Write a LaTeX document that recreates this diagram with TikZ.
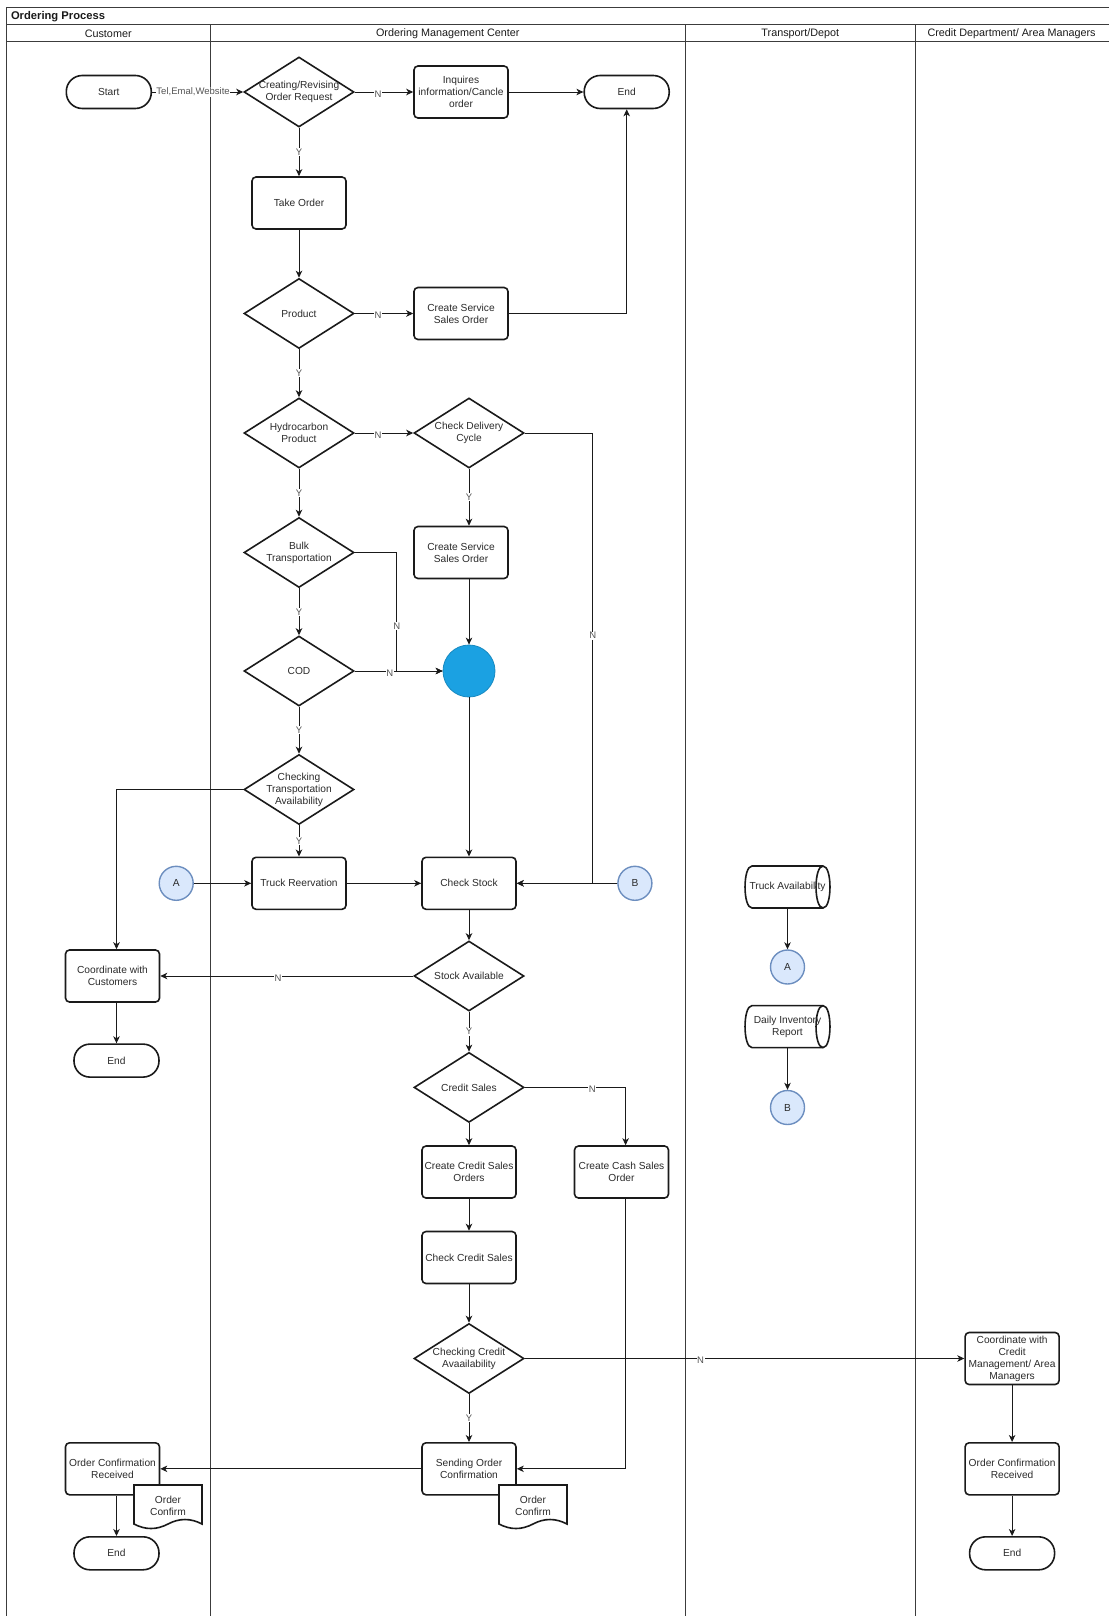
\documentclass[tikz,border=0pt]{standalone}
\usepackage{fontspec}
\setmainfont{Liberation Sans}
\usetikzlibrary{arrows.meta,shapes.geometric,calc}

\definecolor{inkc}{HTML}{1A1A1A}
\definecolor{txtc}{HTML}{2B2B2B}
\definecolor{lblc}{HTML}{555555}
\definecolor{hubblue}{HTML}{1BA1E2}
\definecolor{refill}{HTML}{DAE8FC}
\definecolor{refdraw}{HTML}{6C8EBF}

\begin{document}
\begin{tikzpicture}[x=1pt,y=-1pt,
  base/.style={font=\fontsize{10.2}{12}\selectfont, text=txtc, align=center},
  proc/.style={base, draw=inkc, line width=1.6pt, rounded corners=4pt, minimum width=94pt, minimum height=52pt, inner sep=1pt, fill=white},
  term/.style={base, draw=inkc, line width=1.6pt, rounded corners=16pt, minimum width=85pt, minimum height=33pt, inner sep=1pt, fill=white},
  dec/.style={draw=inkc, line width=1.6pt, diamond, minimum width=110pt, minimum height=70pt, inner sep=0pt, fill=white},
  dtext/.style={base},
  conn/.style={base, circle, draw=refdraw, fill=refill, line width=1.4pt, minimum size=34pt, inner sep=0pt},
  shapeline/.style={draw=inkc, line width=1.6pt, fill=white},
  wire/.style={draw=inkc, line width=0.9pt},
  arr/.style={wire, -{Stealth[length=7pt,width=6.5pt,inset=2pt]}},
  lbl/.style={fill=white, inner sep=0.6pt, text=lblc, font=\fontsize{9.5}{10}\selectfont},
  hlbl/.style={lbl, yshift=-2pt},
  lane/.style={draw=inkc!85, line width=0.9pt},
  head/.style={font=\fontsize{10.8}{13}\selectfont, text=inkc},
]
\useasboundingbox (0,0) rectangle (1108,1616);

% swimlane frame
\draw[lane] (1112,7.2) -- (6.2,7.2) -- (6.2,1620);
\draw[lane] (6.2,24.7) -- (1112,24.7);
\draw[lane] (6.2,41.2) -- (1112,41.2);
\draw[lane] (210.3,24.7) -- (210.3,1620);
\draw[lane] (685.4,24.7) -- (685.4,1620);
\draw[lane] (915.3,24.7) -- (915.3,1620);

\node[anchor=west, font=\fontsize{11.2}{13}\selectfont\bfseries, text=inkc] (title) at (7.5,16.5) {Ordering Process};
\node[head] (hcust) at (108.2,34) {Customer};
\node[head] (homc) at (447.8,34) {Ordering Management Center};
\node[head] (htrans) at (800.3,34) {Transport/Depot};
\node[head] (hcred) at (1011.6,34) {Credit Department/ Area Managers};

% process nodes
\node[term] (start) at (108.8,92) {Start};
\node[dec, label={[dtext]center:{Creating/Revising\\Order Request}}] (creq) at (299,92) {};
\node[proc] (inq) at (461,92) {Inquires\\information/Cancle\\order};
\node[term] (endA) at (626.7,92) {End};
\node[proc] (take) at (299,203) {Take Order};
\node[dec, label={[dtext]center:{Product}}] (prod) at (299,313.5) {};
\node[proc] (svc1) at (461,313.5) {Create Service\\Sales Order};
\node[dec, label={[dtext]center:{Hydrocarbon\\Product}}] (hydro) at (299,433) {};
\node[dec, label={[dtext]center:{Check Delivery\\Cycle}}] (cdc) at (469,433) {};
\node[proc] (svc2) at (461,552.5) {Create Service\\Sales Order};
\node[dec, label={[dtext]center:{Bulk\\Transportation}}] (bulk) at (299,552.5) {};
\node[dec, label={[dtext]center:{COD}}] (cod) at (299,671) {};
\node[circle, fill=hubblue, draw=hubblue!85!black, line width=0.8pt, minimum size=52pt, inner sep=0pt] (hub) at (469,671) {};
\node[dec, label={[dtext]center:{Checking\\Transportation\\Availability}}] (ctrans) at (299,789.5) {};
\node[proc] (truck) at (299,883.3) {Truck Reervation};
\node[conn] (conA) at (176.2,883.3) {A};
\node[proc] (stock) at (469,883.3) {Check Stock};
\node[conn] (conB) at (634.9,883.3) {B};
\node[proc] (coordc) at (112.5,976) {Coordinate with\\Customers};
\node[term] (endB) at (116.5,1060.6) {End};
\node[dec, label={[dtext]center:{Stock Available}}] (savail) at (469,976) {};
\node[dec, label={[dtext]center:{Credit Sales}}] (csales) at (469,1087.4) {};
\node[proc] (ccso) at (469,1172) {Create Credit Sales\\Orders};
\node[proc] (cash) at (621.5,1172) {Create Cash Sales\\Order};
\node[proc] (chkcs) at (469,1257.5) {Check Credit Sales};
\node[dec, label={[dtext]center:{Checking Credit\\Avaailability}}] (ccav) at (469,1358.5) {};
\node[proc] (ccm) at (1012.1,1358.5) {Coordinate with\\Credit\\Management/ Area\\Managers};
\node[proc] (ocr2) at (1012.1,1468.8) {Order Confirmation\\Received};
\node[term] (endD) at (1012.1,1553.3) {End};
\node[proc] (send) at (469,1468.8) {Sending Order\\Confirmation};
\node[proc] (ocr1) at (112.5,1468.8) {Order Confirmation\\Received};
\node[term] (endC) at (116.5,1553.3) {End};

% document symbols (wavy bottom)
\begin{scope}[shift={(168,1507)}]
  \draw[shapeline] (-34,-22) -- (34,-22) -- (34,17)
    .. controls (22.67,11) and (11.33,11) .. (0,17)
    .. controls (-11.33,23) and (-22.67,23) .. (-34,17) -- cycle;
  \node[base] (doc1) at (0,-1) {Order\\Confirm};
\end{scope}
\begin{scope}[shift={(533,1507)}]
  \draw[shapeline] (-34,-22) -- (34,-22) -- (34,17)
    .. controls (22.67,11) and (11.33,11) .. (0,17)
    .. controls (-11.33,23) and (-22.67,23) .. (-34,17) -- cycle;
  \node[base] (doc2) at (0,-1) {Order\\Confirm};
\end{scope}

% direct access storage symbols
\begin{scope}[shift={(787.5,887)}]
  \draw[shapeline] (-35.5,-21) -- (35.5,-21)
    .. controls (44.8,-21) and (44.8,21) .. (35.5,21) -- (-35.5,21)
    .. controls (-44.8,21) and (-44.8,-21) .. (-35.5,-21) -- cycle;
  \draw[shapeline, fill=none] (35.5,-21) .. controls (26.2,-21) and (26.2,21) .. (35.5,21);
  \coordinate (tavbot) at (0,21);
  \node[base] (tav) at (0,0) {Truck Availability};
\end{scope}
\begin{scope}[shift={(787.5,1026.6)}]
  \draw[shapeline] (-35.5,-21) -- (35.5,-21)
    .. controls (44.8,-21) and (44.8,21) .. (35.5,21) -- (-35.5,21)
    .. controls (-44.8,21) and (-44.8,-21) .. (-35.5,-21) -- cycle;
  \draw[shapeline, fill=none] (35.5,-21) .. controls (26.2,-21) and (26.2,21) .. (35.5,21);
  \coordinate (dirbot) at (0,21);
  \node[base] (dir) at (0,0) {Daily Inventory\\Report};
\end{scope}
\node[conn] (conA2) at (787.5,967) {A};
\node[conn] (conB2) at (787.5,1107.5) {B};

% junction points of routed connectors
\coordinate (jcdc) at (592.7,433);
\coordinate (jbulk) at (396.8,552.5);
\coordinate (jcash) at (625.6,1087.4);

% connectors
\draw[arr] (start) -- node[lbl, pos=0.45] {Tel,Emal,Website} (creq);
\draw[arr] (creq) -- node[hlbl, pos=0.4] {N} (inq);
\draw[arr] (inq) -- (endA);
\draw[arr] (creq) -- node[lbl] {Y} (take);
\draw[arr] (take) -- (prod);
\draw[arr] (prod) -- node[hlbl, pos=0.4] {N} (svc1);
\draw[arr] (svc1.east) -| (endA.south);
\draw[arr] (prod) -- node[lbl] {Y} (hydro);
\draw[arr] (hydro) -- node[hlbl, pos=0.4] {N} (cdc);
\draw[arr] (hydro) -- node[lbl] {Y} (bulk);
\draw[arr] (cdc) -- node[lbl] {Y} (cdc |- svc2.north);
\draw[arr] (cdc.east) -- (jcdc) -- node[lbl, pos=0.45] {N} (jcdc |- stock.east) -- (stock.east);
\draw[arr] (conB) -- (stock);
\draw[arr] (bulk) -- node[lbl] {Y} (cod);
\draw[arr] (bulk.east) -- (jbulk) -- node[lbl, pos=0.62] {N} (jbulk |- hub.west) -- (hub.west);
\draw[arr] (cod) -- node[hlbl, pos=0.4] {N} (hub);
\draw[arr] (hub.north |- svc2.south) -- (hub.north);
\draw[arr] (hub) -- (stock);
\draw[arr] (cod) -- node[lbl] {Y} (ctrans);
\draw[arr] (ctrans) -- node[lbl] {Y} (truck);
\draw[arr] (ctrans.west) -| (endB.north |- coordc.north);
\draw[arr] (conA) -- (truck);
\draw[arr] (truck) -- (stock);
\draw[arr] (stock) -- (savail);
\draw[arr] (savail) -- node[hlbl, pos=0.534] {N} (coordc);
\draw[arr] (endB.north |- coordc.south) -- (endB.north);
\draw[arr] (savail) -- node[lbl] {Y} (csales);
\draw[arr] (csales) -- (ccso);
\draw[arr] (csales.east) -- node[hlbl, pos=0.67] {N} (jcash) -- (jcash |- cash.north);
\draw[arr] (ccso) -- (chkcs);
\draw[arr] (chkcs) -- (ccav);
\draw[arr] (ccav) -- node[hlbl, pos=0.4] {N} (ccm);
\draw[arr] (ccav) -- node[lbl] {Y} (send);
\draw[arr] (jcash |- cash.south) -- (jcash |- send.east) -- (send.east);
\draw[arr] (send) -- (ocr1);
\draw[arr] (endC.north |- ocr1.south) -- (endC.north);
\draw[arr] (ccm) -- (ocr2);
\draw[arr] (ocr2) -- (endD);
\draw[arr] (tavbot) -- (conA2);
\draw[arr] (dirbot) -- (conB2);
\end{tikzpicture}
\end{document}
